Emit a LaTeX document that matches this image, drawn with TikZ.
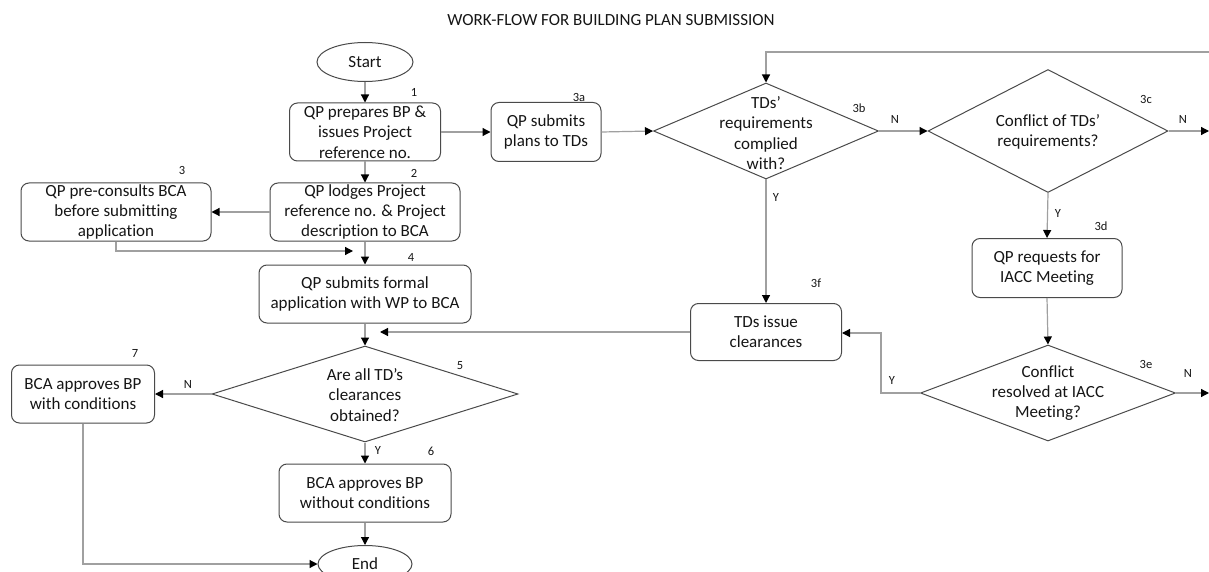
\documentclass[tikz,border=0pt]{standalone}
\usepackage{fontspec}
\setmainfont{Carlito}[Ligatures=NoCommon]
\usetikzlibrary{shapes.geometric,arrows.meta,calc}
\definecolor{boxc}{HTML}{4A4A4A}
\definecolor{linec}{HTML}{A0A0A0}
\definecolor{txtc}{HTML}{151515}
\tikzset{
  proc/.style={draw=boxc, line width=1pt, rounded corners=8pt, inner sep=0pt, align=center, text=txtc, font=\fontsize{17}{20.3}\selectfont},
  dec/.style={draw=boxc, line width=1pt, diamond, inner sep=0pt},
  dtext/.style={align=center, text=txtc, inner sep=0pt, font=\fontsize{17}{20.3}\selectfont},
  term/.style={draw=boxc, line width=1pt, ellipse, inner sep=0pt, text=txtc, font=\fontsize{17}{20.3}\selectfont},
  conn/.style={draw=linec, line width=1.2pt, -{Triangle[length=8pt,width=8pt,color=black]}},
  num/.style={text=txtc, inner sep=0pt, font=\fontsize{12.5}{14}\selectfont},
}
\begin{document}
\begin{tikzpicture}[x=1pt,y=-1pt]
\useasboundingbox (0,0) rectangle (1209,572);
\clip (0,0) rectangle (1209,572);
% title
\node[text=txtc, font=\fontsize{17}{20}\selectfont] (title) at (611,20) {WORK-FLOW FOR BUILDING PLAN SUBMISSION};
% left column
\node[term, minimum width=96pt, minimum height=39pt] (start) at (365,62) {Start};
\node[proc, minimum width=151pt, minimum height=58pt] (b1) at (365,132) {QP prepares BP \&\\issues Project\\reference no.};
\node[proc, minimum width=190pt, minimum height=58pt] (b2) at (365,212) {QP lodges Project\\reference no. \& Project\\description to BCA};
\node[proc, minimum width=190pt, minimum height=58pt] (b3) at (116,212) {QP pre-consults BCA\\before submitting\\application};
\node[proc, minimum width=212pt, minimum height=58pt] (b4) at (365,294) {QP submits formal\\application with WP to BCA};
\node[dec, minimum width=306pt, minimum height=96pt] (d5) at (365,394) {};
\node[dtext] (t5) at (365,395) {Are all TD’s\\clearances\\obtained?};
\node[proc, minimum width=143pt, minimum height=58pt] (b7) at (83,394) {BCA approves BP\\with conditions};
\node[proc, minimum width=172pt, minimum height=58pt] (b6) at (365,493) {BCA approves BP\\without conditions};
\node[term, minimum width=94pt, minimum height=37pt] (end) at (365,564) {End};
% right part
\node[proc, minimum width=110pt, minimum height=59pt] (b3a) at (546,132) {QP submits\\plans to TDs};
\node[dec, minimum width=225pt, minimum height=96pt] (d3b) at (766,131) {};
\node[dtext] (t3b) at (766,133) {TDs’\\requirements\\complied\\with?};
\node[dec, minimum width=240pt, minimum height=123pt] (d3c) at (1048,131) {};
\node[dtext] (t3c) at (1048,132) {Conflict of TDs’\\requirements?};
\node[proc, minimum width=150pt, minimum height=59pt] (b3d) at (1047,268) {QP requests for\\IACC Meeting};
\node[dec, minimum width=255pt, minimum height=96pt] (d3e) at (1048,393) {};
\node[dtext] (t3e) at (1048,393) {Conflict\\resolved at IACC\\Meeting?};
\node[proc, minimum width=151pt, minimum height=57pt] (b3f) at (766,332) {TDs issue\\clearances};
% numbers
\node[num] (n1) at (414,92) {1};
\node[num] (n2) at (414,173) {2};
\node[num] (n3) at (182,170) {3};
\node[num] (n3a) at (579,97) {3a};
\node[num] (n3b) at (859,108) {3b};
\node[num] (n3c) at (1146,99) {3c};
\node[num] (n3d) at (1101,226) {3d};
\node[num] (n3e) at (1146,364) {3e};
\node[num] (n3f) at (816,283) {3f};
\node[num] (n4) at (411,257) {4};
\node[num] (n5) at (460,366) {5};
\node[num] (n6) at (431,451) {6};
\node[num] (n7) at (135,353) {7};
% Y/N labels
\node[num] (l3bN) at (895,119) {N};
\node[num] (l3cN) at (1183,119) {N};
\node[num] (l3bY) at (776,197) {Y};
\node[num] (l3cY) at (1058,213) {Y};
\node[num] (l3eN) at (1188,373) {N};
\node[num] (l3eY) at (892,380) {Y};
\node[num] (l5N) at (188,384) {N};
\node[num] (l5Y) at (378,450) {Y};
% free-end coordinates
\coordinate (outc) at (1209,131);
\coordinate (oute) at (1209,393);
\coordinate (topin) at (1209,52);
\coordinate (topturn) at (766,52);
\coordinate (yturn) at (881,333);
\coordinate (fbk) at (380,332);
\coordinate (c3) at (353,251);
% connectors
\draw[conn] (start.south) -- (b1.north);
\draw[conn] (b1.east) -- (b3a.west);
\draw[conn] (b3a.east) -- (d3b.west);
\draw[conn] (d3b.east) -- (d3c.west);
\draw[conn] (d3c.east) -- (outc);
\draw[conn] (topin) -- (topturn) -- (d3b.north);
\draw[conn] (d3c.south) -- (b3d.north);
\draw[conn] (b3d.south) -- (d3e.north);
\draw[conn] (d3e.east) -- (oute);
\draw[conn] (d3e.west) -| (yturn) -- (yturn -| b3f.east);
\draw[conn] (d3b.south) -- (b3f.north);
\draw[conn] (b3f.west) -- (fbk);
\draw[conn] (b1.south) -- (b2.north);
\draw[conn] (b2.west) -- (b3.east);
\draw[conn] (b3.south) |- (c3);
\draw[conn] (b2.south) -- (b4.north);
\draw[conn] (b4.south) -- (d5.north);
\draw[conn] (d5.west) -- (b7.east);
\draw[conn] (d5.south) -- (b6.north);
\draw[conn] (b6.south) -- (end.north);
\draw[conn] (b7.south) |- (end.west);
\end{tikzpicture}
\end{document}
